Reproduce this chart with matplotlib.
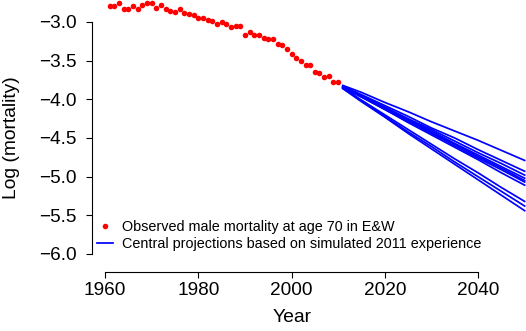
import numpy as np
import matplotlib.pyplot as plt
from matplotlib.lines import Line2D

plt.rcParams['font.family'] = ['Liberation Sans', 'DejaVu Sans']

# observed log mortality, males aged 70, E&W
obs_years = np.arange(1961, 2011)
obs_logm = [-2.793, -2.789, -2.758, -2.832, -2.828, -2.793, -2.828, -2.776, -2.750, -2.758,
            -2.815, -2.776, -2.832, -2.858, -2.875, -2.836, -2.880, -2.893, -2.906, -2.952,
            -2.944, -2.970, -2.985, -3.026, -2.996, -3.030, -3.065, -3.048, -3.056, -3.172,
            -3.125, -3.164, -3.164, -3.207, -3.220, -3.224, -3.288, -3.294, -3.345, -3.418,
            -3.462, -3.508, -3.556, -3.560, -3.643, -3.664, -3.716, -3.699, -3.780, -3.780]

# central projections (simulated 2011 experience)
proj_years = [2011, 2015, 2020, 2025, 2030, 2035, 2040, 2045, 2050]
proj_1 = [-3.82, -3.91, -4.04, -4.16, -4.29, -4.41, -4.53, -4.66, -4.79]
proj_2 = [-3.83, -3.94, -4.08, -4.22, -4.37, -4.50, -4.65, -4.79, -4.93]
proj_3 = [-3.84, -3.95, -4.10, -4.25, -4.39, -4.54, -4.69, -4.83, -4.98]
proj_4 = [-3.83, -3.95, -4.11, -4.26, -4.41, -4.57, -4.72, -4.87, -5.02]
proj_5 = [-3.84, -3.96, -4.12, -4.27, -4.43, -4.58, -4.74, -4.89, -5.05]
proj_6 = [-3.85, -3.97, -4.13, -4.29, -4.44, -4.60, -4.76, -4.91, -5.07]
proj_7 = [-3.84, -3.97, -4.13, -4.30, -4.46, -4.62, -4.78, -4.95, -5.11]
proj_8 = [-3.85, -4.01, -4.20, -4.39, -4.58, -4.77, -4.95, -5.14, -5.32]
proj_9 = [-3.86, -4.02, -4.22, -4.42, -4.61, -4.81, -5.00, -5.19, -5.38]
proj_10 = [-3.86, -4.03, -4.23, -4.44, -4.64, -4.84, -5.04, -5.24, -5.44]
projections = [proj_1, proj_2, proj_3, proj_4, proj_5, proj_6, proj_7, proj_8, proj_9, proj_10]

x_ticks = [1960, 1980, 2000, 2020, 2040]
y_ticks = [-6.0, -5.5, -5.0, -4.5, -4.0, -3.5, -3.0]

W, H = 526, 331
fig = plt.figure(figsize=(W / 100, H / 100), dpi=100)
ax = fig.add_axes([92 / W, 59 / H, 434 / W, 272 / H])

for p in projections:
    ax.plot(proj_years, p, color='#0000ff', lw=1.25, solid_joinstyle='round')
ax.plot(obs_years, obs_logm, 'o', color='#ff0000', ms=4.0, mec='none')

ax.set_xlim(1957.21, 2050.29)
ax.set_ylim(-6.233, -2.7155)

# R-like axes
for s in ['top', 'right']:
    ax.spines[s].set_visible(False)
ax.spines['left'].set_bounds(-6, -3)
ax.spines['bottom'].set_bounds(1960, 2040)
ax.spines['left'].set_linewidth(0.8)
ax.spines['bottom'].set_linewidth(0.8)
ax.set_xticks(x_ticks)
ax.set_yticks(y_ticks)
ax.set_yticklabels([f'{v:.1f}'.replace('-', '\u2212') for v in y_ticks])
ax.tick_params(axis='both', direction='out', length=4.3, width=0.8, labelsize=13.7)
ax.tick_params(axis='y', pad=7)
ax.tick_params(axis='x', pad=3)

fig.text(12 / W, 1 - 138 / H, 'Log (mortality)', rotation=90, ha='center', va='center', fontsize=13.9)
fig.text(292 / W, 1 - 318 / H, 'Year', ha='center', va='center', fontsize=13.9)

handles = [Line2D([], [], ls='none', marker='o', color='#ff0000', ms=4.0, mec='none'),
           Line2D([], [], color='#0000ff', lw=1.25)]
labels = ['Observed male mortality at age 70 in E&W',
          'Central projections based on simulated 2011 experience']
fig.legend(handles, labels, loc='center left', bbox_to_anchor=(97 / W, 1 - 235.5 / H),
           frameon=False, fontsize=10.4, handlelength=1.1, handletextpad=0.6,
           labelspacing=0.22, borderpad=0, borderaxespad=0, numpoints=1)

fig.savefig('out.png', dpi=100)
